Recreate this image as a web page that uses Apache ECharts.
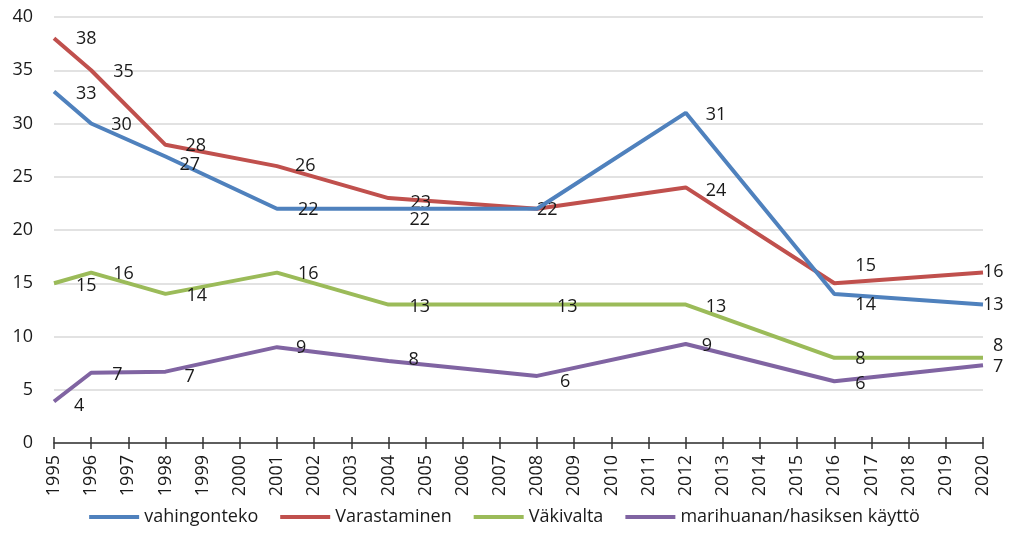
<!DOCTYPE html>
<html>
<head>
<meta charset="utf-8" />
<title>chart</title>
<script src="https://cdn.jsdelivr.net/npm/echarts@6/dist/echarts.min.js"></script>
<style>
  html, body { margin: 0; padding: 0; background: #fff; }
  #main { width: 1009px; height: 551px; }
</style>
</head>
<body>
<div id="main"></div>
<script>
// all years on the axis
var years = [];
for (var y = 1995; y <= 2020; y++) years.push(String(y));

// survey years that have values
var surveyYears = ['1995', '1996', '1998', '2001', '2004', '2008', '2012', '2016', '2020'];

var vahingonteko = [33, 30, 26.9, 22, 22, 22, 31, 14, 13];
var varastaminen = [38, 35, 28, 26, 23, 22, 24, 15, 16];
var vakivalta    = [15, 16, 14, 16, 13, 13, 13, 8, 8];
var marihuana    = [3.9, 6.6, 6.7, 9.0, 7.7, 6.3, 9.3, 5.8, 7.3];

var seriesNames = ['vahingonteko', 'Varastaminen', 'Väkivalta', 'marihuanan/hasiksen käyttö'];
var colors = ['#4F81BD', '#C0504D', '#9BBB59', '#8064A2'];

// label nudges per point (styling only)
var labelOffsets = [
  [[2,2],[0,1],[-6,8],[1,1],[1,11],null,[0,2],[1,11],[-20,0]],
  [[2,1],[2,2],[0,1],[-2,0],[2,5],[-20,1],[0,3],[1,-17],[-20,-1]],
  [[2,3],[2,1],[1,2],[1,1],[1,2],[0,2],[0,2],[1,1],[-10,-12]],
  [[0,4],[1,2],[-1,5],[-1,1],[0,-1],[3,6],[-4,2],[1,3],[-10,2]]
];

function buildData(values, si) {
  return years.map(function (yr) {
    var i = surveyYears.indexOf(yr);
    if (i < 0) return null;
    var off = labelOffsets[si][i];
    if (!off) return { value: values[i], label: { show: false } };
    return { value: values[i], label: { offset: off } };
  });
}

var font = '"Open Sans", "Liberation Sans", sans-serif';
var txt = '#1a1a1a';

var chart = echarts.init(document.getElementById('main'));
chart.setOption({
  animation: false,
  color: colors,
  grid: { left: 54, right: 26, top: 17, bottom: 108 },
  legend: {
    bottom: 20,
    left: 'center',
    icon: 'rect',
    itemWidth: 50,
    itemHeight: 4,
    itemGap: 22,
    textStyle: { fontFamily: font, fontSize: 18, color: txt },
    data: seriesNames
  },
  xAxis: [{
    type: 'category',
    data: years,
    boundaryGap: false,
    axisLine: { lineStyle: { color: '#333', width: 1.5 } },
    axisTick: { show: true, alignWithLabel: true, length: 6, lineStyle: { color: '#333', width: 1.5 } },
    axisLabel: {
      interval: 0, rotate: 90, margin: 12,
      fontFamily: font, fontSize: 18, color: txt
    }
  }, {
    // second copy only for the upward half of the crossing ticks
    type: 'category',
    data: years,
    position: 'bottom',
    boundaryGap: false,
    axisLine: { show: false },
    axisTick: { show: true, inside: true, length: 6, lineStyle: { color: '#333', width: 1.5 } },
    axisLabel: { show: false },
    splitLine: { show: false }
  }],
  yAxis: {
    type: 'value',
    min: 0, max: 40, interval: 5,
    axisLine: { show: false },
    axisTick: { show: false },
    splitLine: { lineStyle: { color: '#d9d9d9', width: 1.5 } },
    axisLabel: { margin: 21, fontFamily: font, fontSize: 18, color: txt }
  },
  series: [vahingonteko, varastaminen, vakivalta, marihuana].map(function (vals, si) {
    return {
      name: seriesNames[si],
      type: 'line',
      data: buildData(vals, si),
      connectNulls: true,
      symbol: 'circle',
      symbolSize: 0,
      lineStyle: { width: 4 },
      z: 10 - si,
      label: {
        show: true,
        position: 'right',
        distance: 20,
        fontFamily: font,
        fontSize: 18,
        color: txt,
        formatter: function (p) { return Math.round(p.value); }
      }
    };
  })
});
</script>
</body>
</html>
